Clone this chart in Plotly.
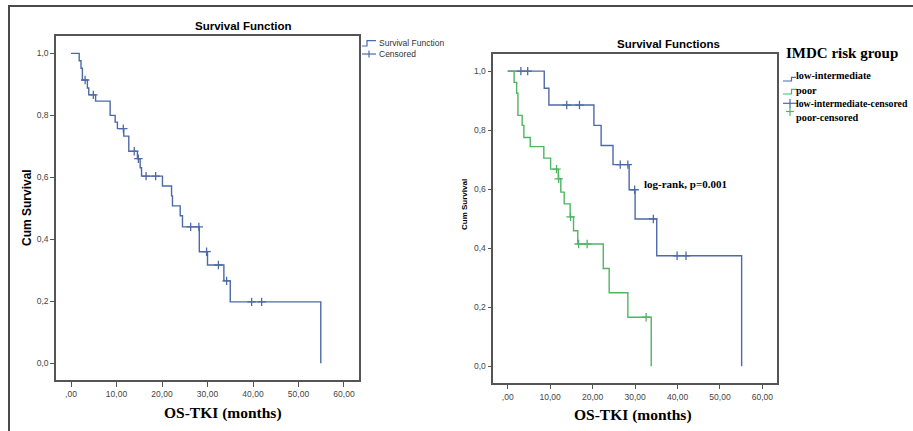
import plotly.graph_objects as go
import numpy as np

# ---------------- data ----------------
# Left: overall Kaplan-Meier
times_all = [0, 1.8, 2.2, 2.5, 3.6, 3.9, 5.4, 8.6, 9.7, 10.2, 11.6, 12.7, 14.6, 15.2, 15.5,
             20.1, 22.1, 22.3, 24.0, 24.5, 28.2, 30.0, 33.6, 35.0, 54.9]
surv_all = [1.0, 0.976, 0.952, 0.914, 0.888, 0.866, 0.846, 0.800, 0.778, 0.757, 0.733, 0.684, 0.660,
            0.631, 0.604, 0.572, 0.540, 0.508, 0.476, 0.440, 0.360, 0.317, 0.266, 0.198, 0.0]
cens_all = [3.1, 4.9, 11.5, 13.9, 14.8, 16.5, 18.6, 26.3, 28.1, 29.8, 32.4, 34.2, 39.7, 41.9]

# Right: by IMDC risk group
times_low = [0, 8.6, 9.7, 20.3, 22.0, 24.8, 28.6, 30.0, 35.1, 55.1]
surv_low = [1.0, 0.942, 0.885, 0.816, 0.748, 0.683, 0.598, 0.499, 0.374, 0.0]
cens_low = [3.1, 4.7, 13.9, 16.9, 26.5, 28.3, 29.9, 34.3, 39.9, 42.0]

times_poor = [0, 1.5, 2.1, 2.4, 3.4, 3.8, 5.3, 8.5, 10.1, 11.9, 12.5, 13.3, 14.7, 15.5, 16.5,
              22.5, 23.9, 28.3, 33.8]
surv_poor = [1.0, 0.962, 0.925, 0.850, 0.816, 0.775, 0.744, 0.705, 0.668, 0.635, 0.590, 0.550,
             0.506, 0.459, 0.414, 0.331, 0.249, 0.166, 0.0]
cens_poor = [11.5, 12.0, 14.8, 16.7, 18.7, 32.6]

x_ticks = [0, 10, 20, 30, 40, 50, 60]
x_tick_text = [",00", "10,00", "20,00", "30,00", "40,00", "50,00", "60,00"]
y_ticks = [0, 0.2, 0.4, 0.6, 0.8, 1.0]
y_tick_text = ["0,0", "0,2", "0,4", "0,6", "0,8", "1,0"]

# ---------------- helpers ----------------
W, H = 913, 431
def P(x):
    return x / W
def Q(y):
    return 1 - y / H

def surv_at(ts, ss, t):
    idx = np.searchsorted(ts, t, side="right") - 1
    return ss[idx]

BLUE = "#4d6aa6"
GREEN = "#4fb563"
AX = "#555555"

fig = go.Figure()

def add_curve(ts, ss, cens, color, xa, ya, name):
    fig.add_trace(go.Scatter(x=ts, y=ss, mode="lines", line=dict(color=color, width=1.4, shape="hv"),
                             xaxis=xa, yaxis=ya, name=name, showlegend=False, hoverinfo="skip"))
    cy = [surv_at(ts, ss, c) for c in cens]
    fig.add_trace(go.Scatter(x=cens, y=cy, mode="markers",
                             marker=dict(symbol="cross-thin", size=6, line=dict(color=color, width=1.3)),
                             xaxis=xa, yaxis=ya, name=name + " censored", showlegend=False, hoverinfo="skip"))

add_curve(times_all, surv_all, cens_all, BLUE, "x", "y", "Survival Function")
add_curve(times_low, surv_low, cens_low, BLUE, "x2", "y2", "low-intermediate")
add_curve(times_poor, surv_poor, cens_poor, GREEN, "x2", "y2", "poor")

tickfont = dict(family="Liberation Sans, Arial", size=8.5, color="#444444")
axis_common = dict(showline=True, linecolor=AX, linewidth=1.5, mirror=True, ticks="outside",
                   tickcolor=AX, tickwidth=1.2, showgrid=False, zeroline=False, tickfont=tickfont)

fig.update_layout(
    width=W, height=H, autosize=False, margin=dict(l=0, r=0, t=0, b=0),
    paper_bgcolor="white", plot_bgcolor="white", showlegend=False,
    xaxis=dict(domain=[P(56), P(359)], range=[-3.3, 63.3], tickvals=x_ticks, ticktext=x_tick_text,
               ticklen=5, anchor="y", **axis_common),
    yaxis=dict(domain=[Q(380), Q(36)], range=[-0.054, 1.056], tickvals=y_ticks, ticktext=y_tick_text,
               ticklen=4, anchor="x", **axis_common),
    xaxis2=dict(domain=[P(493.3), P(777.3)], range=[-3.4, 63.5], tickvals=x_ticks, ticktext=x_tick_text,
                ticklen=5, anchor="y2", **axis_common),
    yaxis2=dict(domain=[Q(382.7), Q(54.3)], range=[-0.056, 1.057], tickvals=y_ticks, ticktext=y_tick_text,
                ticklen=4, anchor="x2", **axis_common),
)

ann = []
def A(text, x, y, size, family, bold=True, xanchor="center", angle=0, color="black"):
    t = "<b>%s</b>" % text if bold else text
    ann.append(dict(text=t, x=P(x), y=Q(y), xref="paper", yref="paper", showarrow=False,
                    xanchor=xanchor, yanchor="middle", textangle=angle,
                    font=dict(family=family, size=size, color=color)))

SANS = "Liberation Sans, Arial"
SERIF = "Liberation Serif, Times New Roman"
# left panel
A("Survival Function", 243, 26, 11.5, SANS)
A("Cum Survival", 27, 208, 12, SANS, angle=-90)
A("OS-TKI (months)", 223, 413, 15.5, SERIF)
A("Survival Function", 377, 43, 8.5, SANS, bold=False, xanchor="left", color="#333333")
A("Censored", 377, 54, 8.5, SANS, bold=False, xanchor="left", color="#333333")
# right panel
A("Survival Functions", 668, 44.3, 11.5, SANS)
A("Cum Survival", 465, 204, 8, SANS, angle=-90)
A("OS-TKI (months)", 632.7, 415, 15.5, SERIF)
A("log-rank, p=0.001", 641.7, 184.3, 11, SERIF, xanchor="left")
A("IMDC risk group", 784, 53.3, 15, SERIF, xanchor="left")
A("low-intermediate", 794, 76, 10.3, SERIF, xanchor="left")
A("poor", 794, 90, 10.3, SERIF, xanchor="left")
A("low-intermediate-censored", 794, 103.7, 9.8, SERIF, xanchor="left")
A("poor-censored", 794, 117.3, 10.3, SERIF, xanchor="left")
fig.update_layout(annotations=ann)

shapes = []
def path_px(pts, color, width=1.2):
    d = "M " + " L ".join("%f,%f" % (P(x), Q(y)) for x, y in pts)
    shapes.append(dict(type="path", path=d, xref="paper", yref="paper",
                       line=dict(color=color, width=width)))

# outer frame (top and left borders)
path_px([(913, 6), (9, 6), (9, 431)], "#4a4a4a", 2)
# left legend glyphs
path_px([(362, 46), (367, 46), (367, 40.7), (376, 40.7)], BLUE)
path_px([(362, 54), (376, 54)], BLUE)
path_px([(369, 50.5), (369, 57.5)], BLUE)
# right legend glyphs
path_px([(783, 81), (791.5, 81), (791.5, 77.3), (796, 77.3)], BLUE)
path_px([(783, 94), (791.5, 94), (791.5, 89.3), (797, 89.3)], GREEN)
path_px([(783, 103.3), (798, 103.3)], BLUE)
path_px([(790, 99), (790, 108)], BLUE)
path_px([(786, 111.5), (794, 111.5)], GREEN)
path_px([(790, 107), (790, 116)], GREEN)
fig.update_layout(shapes=shapes)

fig.write_html("out.html", config={"displayModeBar": False},
               post_script="document.body.style.margin='0';document.body.style.overflow='hidden';")
